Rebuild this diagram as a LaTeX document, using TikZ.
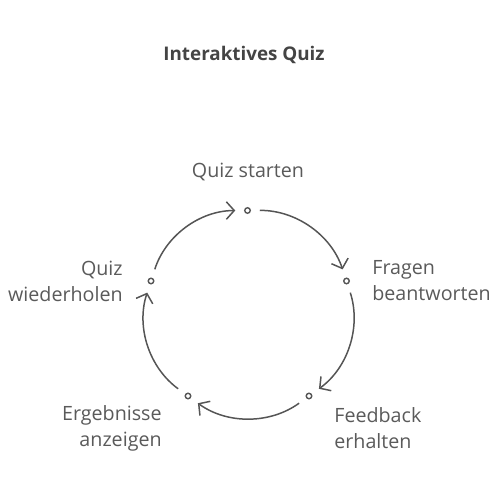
\documentclass[tikz,border=0pt]{standalone}
\usepackage{fontspec}
\setmainfont{Open Sans}
\usepackage{tikz}
\usetikzlibrary{arrows.meta}
\definecolor{quizgray}{HTML}{555555}
\definecolor{quiztext}{HTML}{5A5A5A}
\definecolor{quiztitle}{HTML}{444444}

\begin{document}
\begin{tikzpicture}
  [stage/.style={circle,draw=quizgray,line width=0.8pt,fill=white,inner sep=0,
                  minimum size=0.11cm,outer sep=0},
  stagetext/.style={text=quiztext,font=\fontsize{11.2}{14.8}\selectfont,inner sep=0},
  titel/.style={text=quiztitle,font=\fontsize{10.7}{12}\selectfont\bfseries,inner sep=0},
  cyclearrow/.style={draw=quizgray,line width=0.85pt,bend left=36,
                  shorten <=0.19cm,shorten >=0.19cm,
                  -{Straight Barb[length=4.5pt,width=10pt,line width=0.85pt]}}
                  ]
  \useasboundingbox (0,0) rectangle (10,10);

  \node[titel] (title) at (4.88,8.9) {Interaktives Quiz};

  \node[stage] (start) at (4.95,5.79) {};
  \node[stage] (answer) at (6.93,4.38) {};
  \node[stage] (feedback) at (6.18,2.08) {};
  \node[stage] (result) at (3.76,2.08) {};
  \node[stage] (repeat) at (3.02,4.38) {};

  \node[stagetext] (startt) at (4.96,6.56) {Quiz starten};
  \node[stagetext,anchor=west,align=left] (answert) at (7.44,4.38) {Fragen\\beantworten};
  \node[stagetext,anchor=west,align=left] (feedbackt) at (6.68,1.44) {Feedback\\erhalten};
  \node[stagetext,anchor=east,align=right] (resultt) at (3.24,1.44) {Ergebnisse\\anzeigen};
  \node[stagetext,anchor=east,align=right] (repeatt) at (2.46,4.38) {Quiz\\wiederholen};

  \draw[cyclearrow] (start) to (answer);
  \draw[cyclearrow] (answer) to (feedback);
  \draw[cyclearrow] (feedback) to (result);
  \draw[cyclearrow] (result) to (repeat);
  \draw[cyclearrow] (repeat) to (start);
\end{tikzpicture}
\end{document}
